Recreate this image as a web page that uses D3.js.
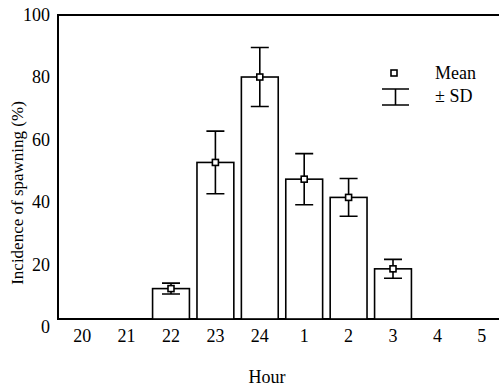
<html>
<head>
  <script src="https://d3js.org/d3.v7.min.js"></script>
</head>
<body style="margin:0">
<svg id="chart" width="499" height="388"></svg>
<script>
// values
const hours = ["20", "21", "22", "23", "24", "1", "2", "3", "4", "5"];
const means = [0, 0, 10, 51.5, 79.6, 46, 40, 16.5, 0, 0];
const sds   = [0, 0, 1.8, 10.3, 9.7, 8.4, 6.2, 3.1, 0, 0];
const yTicks = [0, 20, 40, 60, 80, 100];

const svg = d3.select("#chart");
const mLeft = 58, mTop = 15, mBottom = 319, mRight = 510;

const x = d3.scalePoint().domain(hours).range([60, 504]).padding(0.5);
const barW = x.step() * 0.83;
const y = d3.scaleLinear().domain([0, 100]).range([mBottom, mTop]);
// the printed tick labels sit slightly wider apart than the axis itself
const yLab = d3.scaleLinear().domain([0, 100]).range([327, 15]);

const data = hours.map((h, i) => ({ h: h, m: means[i], sd: sds[i] }));

function label(sel, size) {
  return sel.style("font-family", "'Times New Roman'")
    .style("font-size", size + "px").attr("fill", "black");
}
function ink(sel, fill) {
  return sel.attr("stroke", "black").attr("stroke-width", 1.6).attr("fill", fill);
}

// frame (right side runs off the page in the original)
svg.append("path")
  .attr("d", `M${mRight},${mTop}H${mLeft}V${mBottom}H${mRight}`)
  .attr("fill", "none").attr("stroke", "black").attr("stroke-width", 2);

// bars
const shown = data.filter(d => d.m > 0);
ink(svg.append("g").selectAll("rect").data(shown).enter().append("rect")
  .attr("x", d => x(d.h) - barW / 2)
  .attr("y", d => y(d.m))
  .attr("width", barW)
  .attr("height", d => y(0) - y(d.m)), "white");

// error bars
const cap = 9;
ink(svg.append("g").selectAll("path").data(shown).enter().append("path")
  .attr("d", d => {
    const cx = x(d.h), t = y(d.m + d.sd), b = y(d.m - d.sd);
    return `M${cx},${t}V${b}M${cx - cap},${t}H${cx + cap}M${cx - cap},${b}H${cx + cap}`;
  }), "none");
ink(svg.append("g").selectAll("rect").data(shown).enter().append("rect")
  .attr("x", d => x(d.h) - 3).attr("y", d => y(d.m) - 3)
  .attr("width", 6).attr("height", 6), "white");

// y tick labels
label(svg.selectAll(".ylab").data(yTicks).enter().append("text")
  .attr("x", 50).attr("y", d => yLab(d) + 6)
  .attr("text-anchor", "end")
  .text(d => d), 18);

// x tick labels
label(svg.selectAll(".xlab").data(hours).enter().append("text")
  .attr("x", d => x(d)).attr("y", 342)
  .attr("text-anchor", "middle")
  .text(d => d), 18);

// axis titles
label(svg.append("text")
  .attr("x", 267).attr("y", 383)
  .attr("text-anchor", "middle")
  .text("Hour"), 18);

label(svg.append("text")
  .attr("transform", "translate(23,193) rotate(-90)")
  .attr("text-anchor", "middle")
  .text("Incidence of spawning (%)"), 17);

// legend
ink(svg.append("rect").attr("x", 391).attr("y", 70).attr("width", 6).attr("height", 6), "white");
ink(svg.append("path").attr("d", "M382,89H409M395.5,89V105M382,105H409"), "none");
label(svg.append("text").attr("x", 435).attr("y", 79).text("Mean"), 18);
label(svg.append("text").attr("x", 435).attr("y", 102).text("\u00B1 SD"), 18);
</script>
</body>
</html>
